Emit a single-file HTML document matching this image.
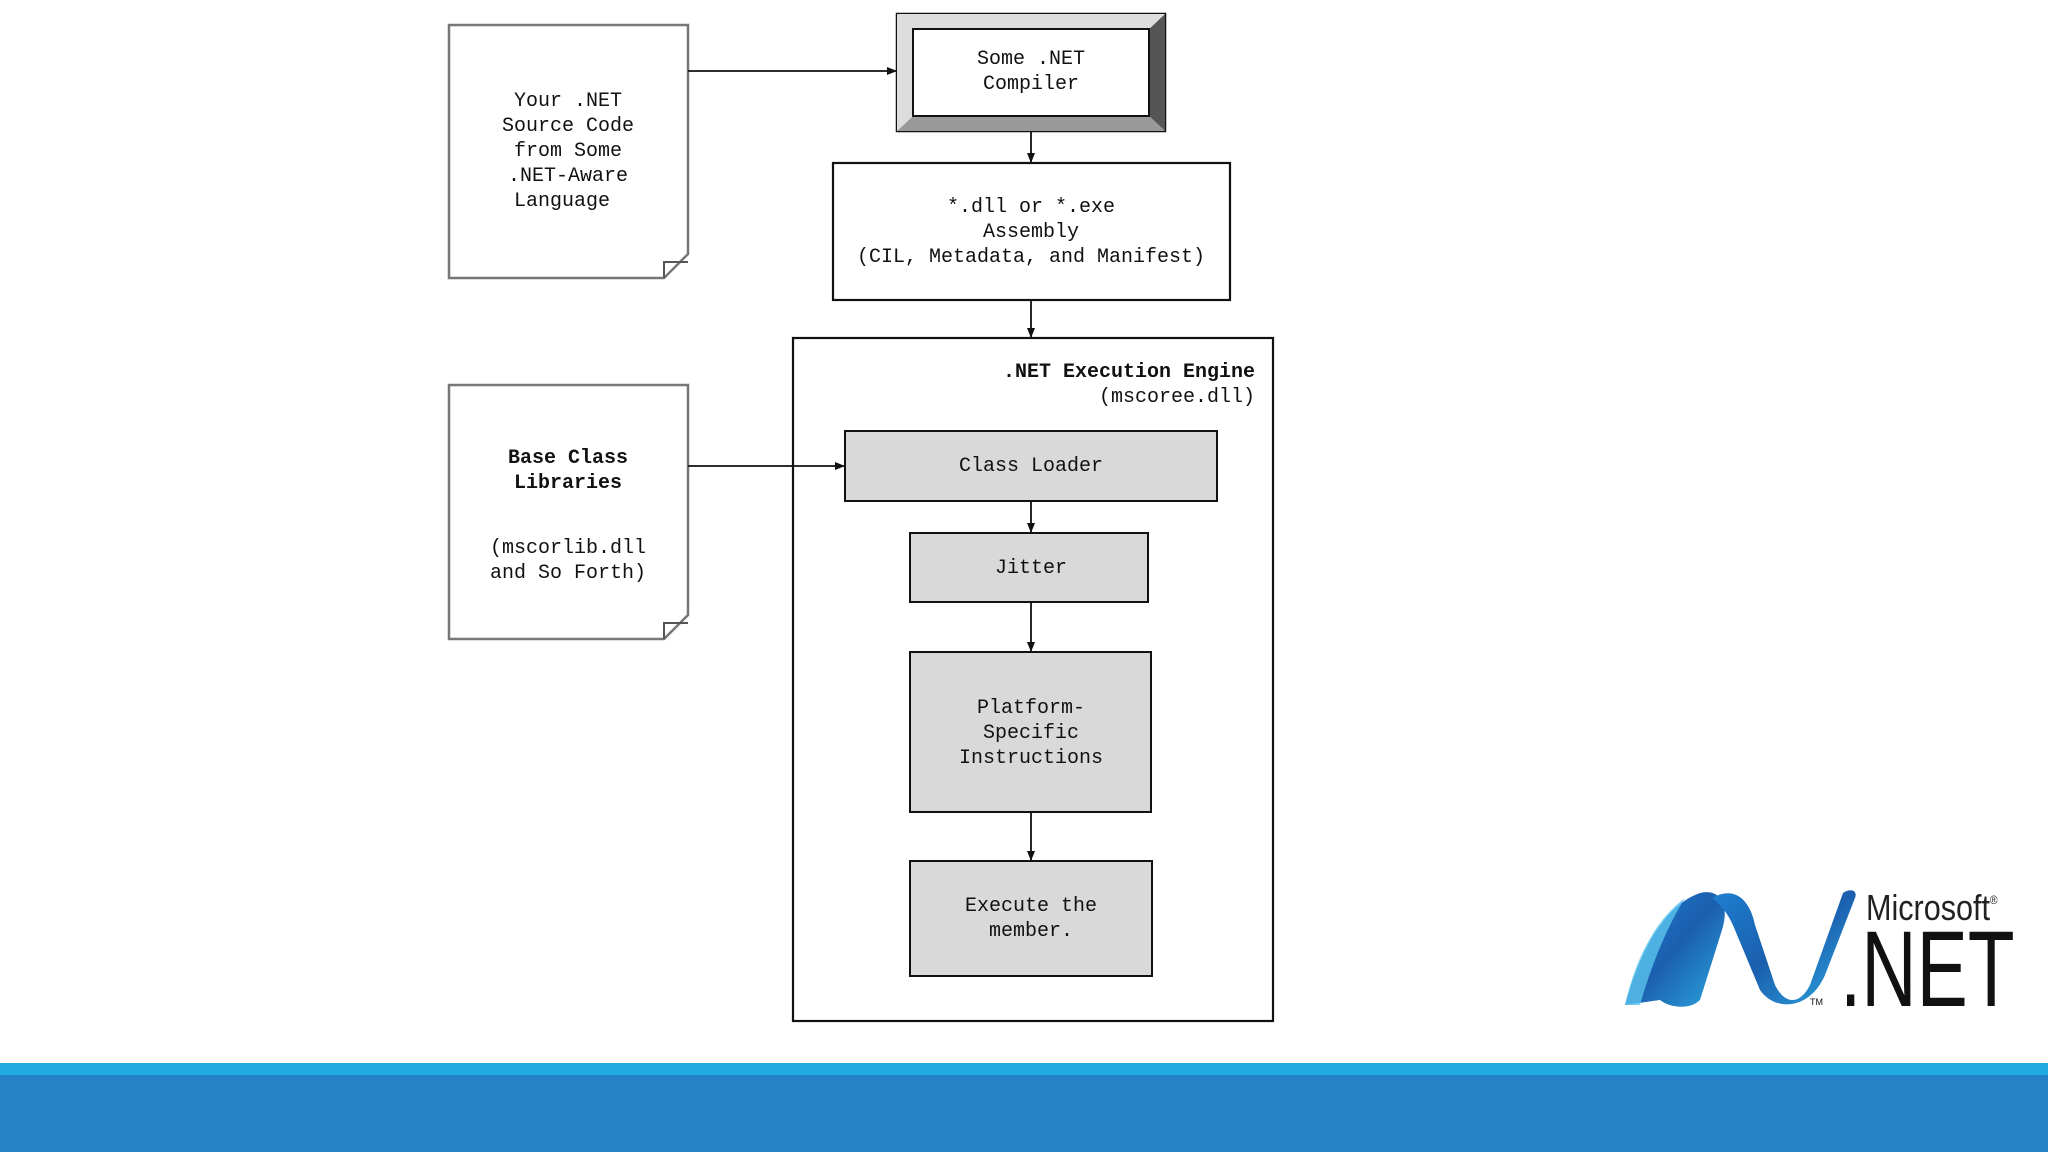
<!DOCTYPE html>
<html><head><meta charset="utf-8"><style>
html,body{margin:0;padding:0;background:#fff;width:2048px;height:1152px;overflow:hidden}
svg{display:block}
text{font-family:"Liberation Mono",monospace;font-size:20px;fill:#111}
</style></head><body>
<svg width="2048" height="1152" viewBox="0 0 2048 1152" xmlns="http://www.w3.org/2000/svg">
<defs>
<marker id="ar" markerWidth="10" markerHeight="8" refX="9" refY="4" orient="auto" markerUnits="userSpaceOnUse">
<path d="M0,0 L10,4 L0,8 z" fill="#111"/></marker>
<linearGradient id="sw" x1="0" y1="0" x2="1" y2="1">
<stop offset="0" stop-color="#1e7fd0"/><stop offset="0.5" stop-color="#1b5fae"/><stop offset="1" stop-color="#2ca8e0"/></linearGradient>
</defs>
<rect width="2048" height="1152" fill="#fff"/>

<path d="M449,25 H688 V254 L664,278 H449 Z" fill="#fff" stroke="#777" stroke-width="2.5"/>
<path d="M664,278 V262 H688" fill="none" stroke="#555" stroke-width="2"/>
<text text-anchor="middle"><tspan x="568" y="106">Your .NET</tspan><tspan x="568" y="131">Source Code</tspan><tspan x="568" y="156">from Some</tspan><tspan x="568" y="181">.NET-Aware</tspan><tspan x="562" y="206">Language</tspan></text>

<rect x="897" y="14" width="268" height="117" fill="#fff" stroke="#111" stroke-width="2.5"/>
<polygon points="1149,29 1165,14 1165,131 1149,116" fill="#555"/>
<polygon points="913,116 1149,116 1165,131 897,131" fill="#999"/>
<polygon points="897,14 1165,14 1149,29 913,29" fill="#ddd"/>
<polygon points="897,14 913,29 913,116 897,131" fill="#ddd"/>
<rect x="913" y="29" width="236" height="87" fill="#fff" stroke="#111" stroke-width="2"/>
<text text-anchor="middle"><tspan x="1031" y="64">Some .NET</tspan><tspan x="1031" y="89">Compiler</tspan></text>

<line x1="688" y1="71" x2="896" y2="71" stroke="#111" stroke-width="1.8" marker-end="url(#ar)"/>
<line x1="1031" y1="131" x2="1031" y2="162" stroke="#111" stroke-width="1.8" marker-end="url(#ar)"/>

<rect x="833" y="163" width="397" height="137" fill="#fff" stroke="#111" stroke-width="2.2"/>
<text text-anchor="middle"><tspan x="1031" y="212">*.dll or *.exe</tspan><tspan x="1031" y="237">Assembly</tspan><tspan x="1031" y="262">(CIL, Metadata, and Manifest)</tspan></text>
<line x1="1031" y1="300" x2="1031" y2="337" stroke="#111" stroke-width="1.8" marker-end="url(#ar)"/>

<rect x="793" y="338" width="480" height="683" fill="#fff" stroke="#111" stroke-width="2.2"/>
<text text-anchor="end" x="1255" y="377" style="font-weight:bold">.NET Execution Engine</text>
<text text-anchor="end" x="1255" y="402">(mscoree.dll)</text>

<path d="M449,385 H688 V615 L664,639 H449 Z" fill="#fff" stroke="#777" stroke-width="2.5"/>
<path d="M664,639 V623 H688" fill="none" stroke="#555" stroke-width="2"/>
<text text-anchor="middle" style="font-weight:bold"><tspan x="568" y="463">Base Class</tspan><tspan x="568" y="488">Libraries</tspan></text>
<text text-anchor="middle"><tspan x="568" y="553">(mscorlib.dll</tspan><tspan x="568" y="578">and So Forth)</tspan></text>
<line x1="688" y1="466" x2="844" y2="466" stroke="#111" stroke-width="1.8" marker-end="url(#ar)"/>

<rect x="845" y="431" width="372" height="70" fill="#d9d9d9" stroke="#111" stroke-width="2"/>
<text text-anchor="middle" x="1031" y="471">Class Loader</text>
<line x1="1031" y1="501" x2="1031" y2="532" stroke="#111" stroke-width="1.8" marker-end="url(#ar)"/>
<rect x="910" y="533" width="238" height="69" fill="#d9d9d9" stroke="#111" stroke-width="2"/>
<text text-anchor="middle" x="1031" y="573">Jitter</text>
<line x1="1031" y1="602" x2="1031" y2="651" stroke="#111" stroke-width="1.8" marker-end="url(#ar)"/>
<rect x="910" y="652" width="241" height="160" fill="#d9d9d9" stroke="#111" stroke-width="2"/>
<text text-anchor="middle"><tspan x="1031" y="713">Platform-</tspan><tspan x="1031" y="738">Specific</tspan><tspan x="1031" y="763">Instructions</tspan></text>
<line x1="1031" y1="812" x2="1031" y2="860" stroke="#111" stroke-width="1.8" marker-end="url(#ar)"/>
<rect x="910" y="861" width="242" height="115" fill="#d9d9d9" stroke="#111" stroke-width="2"/>
<text text-anchor="middle"><tspan x="1031" y="911">Execute the</tspan><tspan x="1031" y="936">member.</tspan></text>

<path d="M1625,1005 C1640,950 1665,905 1700,893 C1720,888 1730,905 1722,930 L1700,1000 C1690,1010 1670,1008 1660,1000 Z" fill="url(#sw)"/>
<path d="M1625,1005 C1635,960 1655,920 1685,898 C1665,930 1650,970 1640,1005 Z" fill="#5ac4ee" opacity="0.8"/>
<path d="M1712,898 C1735,885 1750,900 1755,925 L1775,985 C1785,1005 1800,1005 1810,985 L1843,893 C1850,888 1858,890 1855,898 L1825,975 C1810,1010 1775,1012 1760,990 L1735,930 C1728,912 1720,905 1712,898 Z" fill="url(#sw)"/>
<text x="1810" y="1005" style="font-family:'Liberation Sans',sans-serif;font-size:9px">TM</text>
<text x="1866" y="920" style="font-family:'Liberation Sans',sans-serif;font-size:36px;fill:#222" transform="translate(1866,0) scale(0.85,1) translate(-1866,0)">Microsoft<tspan font-size="12" dy="-16">®</tspan></text>
<text x="1840" y="1006" style="font-family:'Liberation Sans',sans-serif;font-size:108px;fill:#111" transform="translate(1840,0) scale(0.71,1) translate(-1840,0)">.NET</text>

<rect x="0" y="1063" width="2048" height="12" fill="#1faae2"/>
<rect x="0" y="1075" width="2048" height="77" fill="#2583c5"/>
</svg>
</body></html>
